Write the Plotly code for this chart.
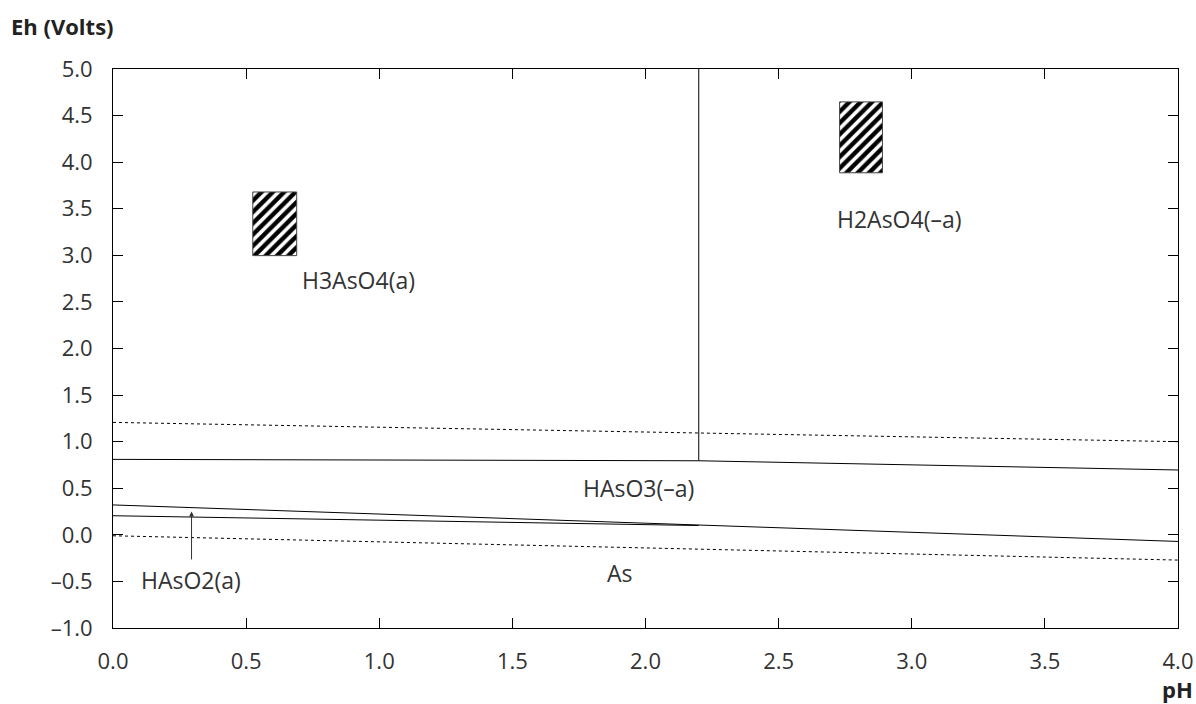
import plotly.graph_objects as go

# ---- data ----
ph_ticks = [0.0, 0.5, 1.0, 1.5, 2.0, 2.5, 3.0, 3.5, 4.0]
eh_ticks = [-1.0, -0.5, 0.0, 0.5, 1.0, 1.5, 2.0, 2.5, 3.0, 3.5, 4.0, 4.5, 5.0]

# water stability limits (dotted)
o2_ph = [0.0, 4.0]
o2_eh = [1.207, 1.0]
h2_ph = [0.0, 4.0]
h2_eh = [-0.01, -0.271]

# species boundaries (solid)
b1_ph = [0.0, 2.2, 4.0]          # H3AsO4 / H2AsO4- above HAsO3-
b1_eh = [0.81, 0.795, 0.696]
b2_ph = [2.2, 2.2]               # H3AsO4 | H2AsO4-
b2_eh = [0.795, 5.0]
b3_ph = [0.0, 4.0]               # HAsO3- / As
b3_eh = [0.321, -0.071]
b4_ph = [0.0, 2.2]               # HAsO2 lower bound
b4_eh = [0.205, 0.1]

# hatched boxes [x0, x1, y0, y1]
box1 = [0.525, 0.69, 2.997, 3.68]
box2 = [2.729, 2.89, 3.886, 4.647]

# labels
lab_text = ["H3AsO4(a)", "H2AsO4(–a)", "HAsO3(–a)", "As", "HAsO2(a)"]
lab_x = [0.922, 2.954, 1.972, 1.905, 0.293]
lab_y = [2.73, 3.393, 0.5, -0.41, -0.486]

arrow_x = 0.295
arrow_head_y = 0.25
arrow_tail_y = -0.28

FONT = "Open Sans"
TXT = "#333333"
FS = 22
FS_LAB = 23

fig = go.Figure()

def line(xs, ys, dash="solid"):
    fig.add_trace(go.Scatter(x=xs, y=ys, mode="lines",
                             line=dict(color="black", width=1, dash=dash),
                             hoverinfo="skip", showlegend=False))

line(o2_ph, o2_eh, "dot")
line(h2_ph, h2_eh, "dot")
line(b1_ph, b1_eh)
line(b2_ph, b2_eh)
line(b3_ph, b3_eh)
line(b4_ph, b4_eh)

for b in (box1, box2):
    x0, x1, y0, y1 = b
    fig.add_trace(go.Scatter(
        x=[x0, x1, x1, x0, x0], y=[y0, y0, y1, y1, y0],
        mode="lines", fill="toself",
        fillcolor="white",
        fillpattern=dict(shape="/", fgcolor="black", bgcolor="white",
                         fgopacity=1, fillmode="overlay",
                         size=8, solidity=0.55),
        line=dict(color="#444444", width=1),
        hoverinfo="skip", showlegend=False))

for t, x, y in zip(lab_text, lab_x, lab_y):
    fig.add_annotation(x=x, y=y, text=t, showarrow=False,
                       font=dict(family=FONT, size=FS_LAB, color=TXT))

fig.add_annotation(x=arrow_x, y=arrow_head_y, ax=arrow_x, ay=arrow_tail_y,
                   xref="x", yref="y", axref="x", ayref="y",
                   text="", showarrow=True, arrowhead=2, arrowsize=1,
                   arrowwidth=1, arrowcolor="#333333")

fig.add_annotation(x=0, y=1, xref="paper", yref="paper", xanchor="left",
                   yanchor="middle", text="<b>Eh (Volts)</b>", showarrow=False,
                   xshift=-104, yshift=43,
                   font=dict(family=FONT, size=FS, color="#222222"))
fig.add_annotation(x=1, y=0, xref="paper", yref="paper", xanchor="center",
                   yanchor="middle", text="<b>pH</b>", showarrow=False,
                   yshift=-61, xshift=-1,
                   font=dict(family=FONT, size=FS, color="#222222"))

fmt = lambda v: f"{v:.1f}".replace("-", "–")

fig.update_xaxes(range=[0, 4], tickvals=ph_ticks, ticktext=[fmt(v) for v in ph_ticks],
                 showgrid=False, zeroline=False, showline=True, linecolor="black",
                 linewidth=1, mirror="ticks", ticks="inside", ticklen=10,
                 tickcolor="black", ticklabelstandoff=14, automargin=False,
                 tickfont=dict(family=FONT, size=FS, color=TXT))
fig.update_yaxes(range=[-1, 5], tickvals=eh_ticks, ticktext=[fmt(v) for v in eh_ticks],
                 showgrid=False, zeroline=False, showline=True, linecolor="black",
                 linewidth=1, mirror="ticks", ticks="inside", ticklen=10,
                 tickcolor="black", ticklabelstandoff=15, automargin=False,
                 tickfont=dict(family=FONT, size=FS, color=TXT))

fig.update_layout(width=1196, height=704, plot_bgcolor="white", paper_bgcolor="white",
                  margin=dict(l=113, r=18, t=69, b=76), showlegend=False)

fig.write_html("out.html", config={"displayModeBar": False},
               post_script="document.body.style.margin='0';document.body.style.overflow='hidden';")
